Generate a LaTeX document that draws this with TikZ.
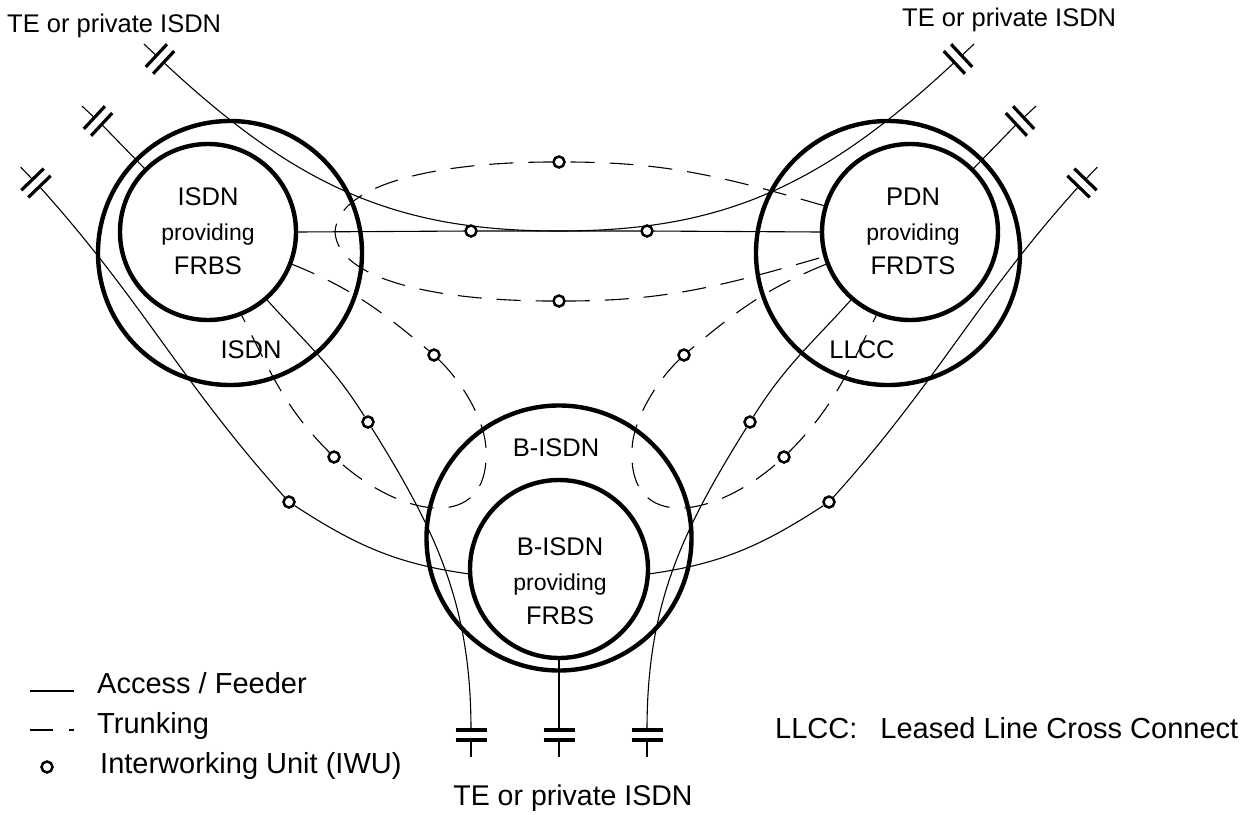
\documentclass[tikz,border=0pt]{standalone}
\usepackage{fontspec}
\setmainfont{Liberation Sans}
\begin{document}
\begin{tikzpicture}[
	x=1pt, y=-1pt,
	net/.style={ circle, draw, line width=4.4pt, inner sep=0pt },
	iwu/.style={ circle, draw, line width=2.5pt, fill=white, inner sep=0pt, minimum size=11pt },
	feeder/.style={ line width=1.1pt },
	trunk/.style={ line width=1.1pt, dash pattern=on 24pt off 15pt },
	plate/.style={ line width=3.2pt },
	lbl/.style={ font=\fontsize{25.5}{34.5}\selectfont, align=center, inner sep=0pt },
	key/.style={ font=\fontsize{29}{34}\selectfont, inner sep=0pt, anchor=base west },
	pics/capterm/.style={ code={
		\draw[plate] (-5,-15.5) to (-5,15.5) (5,-15.5) to (5,15.5);
		\draw[feeder] (-22,0) to (-5,0);
		\coordinate (-in) at (5,0);
	}}
]

\useasboundingbox (0,0) rectangle (1245,814);

% the three networks
\node[net, minimum size=264pt] (isdnOut) at (230,253) {};
\node[net, minimum size=176pt] (isdnIn) at (208,232) {};
\node[net, minimum size=264pt] (pdnOut) at (888,253) {};
\node[net, minimum size=176pt] (pdnIn) at (910,232) {};
\node[net, minimum size=265pt] (bisdnOut) at (559,538) {};
\node[net, minimum size=178pt] (bisdnIn) at (559,569) {};

\node[lbl] (isdnTxt) at (208,231.5) {ISDN\\{\fontsize{23}{34.5}\selectfont providing}\\FRBS};
\node[lbl] (pdnTxt) at (913,231.5) {PDN\\{\fontsize{23}{34.5}\selectfont providing}\\FRDTS};
\node[lbl] (bisdnTxt) at (560,581.5) {B-ISDN\\{\fontsize{23}{34.5}\selectfont providing}\\FRBS};
\node[lbl, anchor=base] (isdnRing) at (251,358) {ISDN};
\node[lbl, anchor=base] (llccRing) at (862,358) {LLCC};
\node[lbl, anchor=base] (bisdnRing) at (556,456) {B-ISDN};

% interworking units
\node[iwu] (iwuT) at (559,162) {};
\node[iwu] (iwuB) at (559,301) {};
\node[iwu] (iwuH1) at (471,231) {};
\node[iwu] (iwuH2) at (647,231) {};
\node[iwu] (iwuL1) at (434,355) {};
\node[iwu] (iwuL2) at (368,422) {};
\node[iwu] (iwuL3) at (334,457) {};
\node[iwu] (iwuL4) at (289,502) {};
\node[iwu] (iwuR1) at (684,355) {};
\node[iwu] (iwuR2) at (750,422) {};
\node[iwu] (iwuR3) at (784,457) {};
\node[iwu] (iwuR4) at (829,502) {};

% TE or private ISDN
\pic[rotate=-43] (tl1) at (160,59) {capterm};
\pic[rotate=-43] (tl2) at (98,121) {capterm};
\pic[rotate=-46] (tl3) at (36,183) {capterm};
\pic[rotate=-137] (tr1) at (958,59) {capterm};
\pic[rotate=-137] (tr2) at (1020,121) {capterm};
\pic[rotate=-134] (tr3) at (1082,183) {capterm};
\pic[rotate=90] (tb1) at (471,735) {capterm};
\pic[rotate=90] (tb2) at (559,735) {capterm};
\pic[rotate=90] (tb3) at (647,735) {capterm};

\node[lbl, anchor=base west] (teTL) at (7,32) {TE or private ISDN};
\node[lbl, anchor=base west] (teTR) at (902,26) {TE or private ISDN};
\node[lbl, anchor=base, font=\fontsize{28.5}{34}\selectfont] (teB) at (573,805) {TE or private ISDN};

\coordinate (sag) at (559,231);
\coordinate (ilL) at (335,232);
\coordinate (ilB) at (486,453);
\coordinate (irB) at (632,453);

% access / feeder
\draw[feeder] (tl1-in) .. controls (300,190) and (400,231) .. (sag)
  .. controls (718,231) and (818,190) .. (tr1-in);
\draw[feeder] (tl2-in) to (isdnIn.135);
\draw[feeder] (tr2-in) to (pdnIn.45);
\draw[feeder] (tl3-in) to[out=-48,in=132] (iwuL4) to[out=-33,in=172] (bisdnIn.183);
\draw[feeder] (tr3-in) to[out=-132,in=48] (iwuR4) to[out=-147,in=8] (bisdnIn.-3);
\draw[feeder] (isdnIn.-49) to[out=-48,in=122] (iwuL2) to[out=-58,in=90] (tb1-in);
\draw[feeder] (pdnIn.-131) to[out=-132,in=58] (iwuR2) to[out=-122,in=90] (tb3-in);
\draw[feeder] (bisdnIn.south) to (tb2-in);
\draw[feeder] (isdnIn.east) to (iwuH1) to (iwuH2) to (pdnIn.west);

% trunking
\draw[trunk] (pdnIn.163) to[out=164,in=0] (iwuT)
  .. controls (440,162) and (338,183) .. (ilL)
  .. controls (338,281) and (440,301) .. (iwuB) to[out=0,in=196] (pdnIn.196);
\draw[trunk] (isdnIn.-21) to[out=-22,in=140] (iwuL1)
  .. controls (465,385) and (487,425) .. (ilB)
  .. controls (488,530) and (405,520) .. (iwuL3) to[out=135,in=-63] (isdnIn.-68);
\draw[trunk] (pdnIn.201) to[out=202,in=40] (iwuR1)
  .. controls (653,385) and (631,425) .. (irB)
  .. controls (630,530) and (713,520) .. (iwuR3) to[out=45,in=243] (pdnIn.248);

% legend
\draw[feeder] (30,691) to (74,691);
\draw[trunk, dash pattern=on 23pt off 16pt] (30,730) to (74,730);
\node[iwu] (iwuKey) at (47,767) {};
\node[key] (keyA) at (97,693) {Access / Feeder};
\node[key] (keyT) at (97,733) {Trunking};
\node[key] (keyI) at (100,773) {Interworking Unit (IWU)};
\node[key] (keyL) at (775,738) {LLCC:\hspace{23pt}Leased Line Cross Connect};

\end{tikzpicture}
\end{document}
